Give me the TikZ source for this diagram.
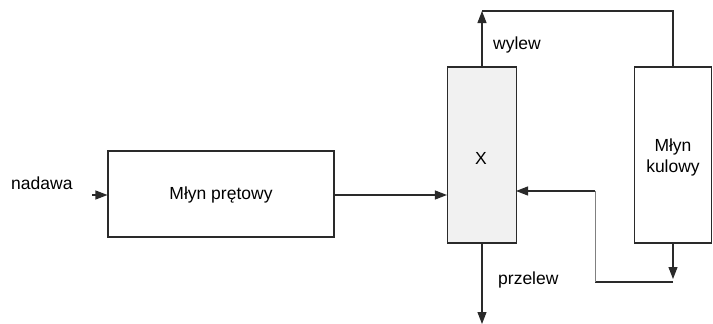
\documentclass[tikz,border=0pt]{standalone}
\usepackage{fontspec}
\setmainfont{Liberation Sans}
\usetikzlibrary{arrows.meta}
\definecolor{ln}{HTML}{2A2A2A}
\definecolor{boxfill}{HTML}{F1F1F1}
\tikzset{
  blk/.style={draw=ln, line width=1.1pt, inner sep=0pt, align=center, font=\fontsize{17.5}{21}\selectfont},
  flow/.style={draw=ln, line width=1.1pt, -{Triangle[length=12pt,width=9pt]}},
  plain/.style={draw=ln, line width=1.1pt},
  lbl/.style={inner sep=0pt, font=\fontsize{17.5}{21}\selectfont}
}
\begin{document}
\begin{tikzpicture}[x=1pt,y=-1pt]
\useasboundingbox (0,0) rectangle (713,324);
\node[blk, minimum width=226pt, minimum height=86pt] (rod) at (221,194) {};
\node[lbl] (rodt) at (221,195) {Młyn prętowy};
\node[blk, fill=boxfill, minimum width=69pt, minimum height=176pt] (x) at (482,155) {};
\node[lbl] (xt) at (481,158) {X};
\node[blk, minimum width=77pt, minimum height=176pt] (ball) at (673,155) {};
\node[lbl, align=center] (ballt) at (673,157) {Młyn\\kulowy};
\node[lbl, anchor=west] (nad) at (11,183) {nadawa};
\node[lbl, anchor=west] (wyl) at (493,45) {wylew};
\node[lbl, anchor=west] (prz) at (498,280) {przelew};
\coordinate (in) at (92,195);
\coordinate (top) at (482,11);
\coordinate (topr) at (673,11);
\coordinate (bot) at (482,324);
\coordinate (ret) at (673,282);
\coordinate (retl) at (595,282);
\coordinate (xin) at (516,191);
\draw[flow] (in) -- (rod.west |- in);
\draw[flow] (rod.east |- 0,195) -- (x.west |- 0,195);
\draw[flow] (x.north) -- (top);
\draw[plain] (top) -- (topr) -- (ball.north);
\draw[flow] (x.south) -- (bot);
\draw[flow, shorten >=3pt] (ball.south) -- (ret);
\draw[plain] (ret) -- (retl);
\draw[draw=gray, line width=0.9pt] (retl) -- (595,191);
\draw[flow] (595,191) -- (xin);
\end{tikzpicture}
\end{document}
